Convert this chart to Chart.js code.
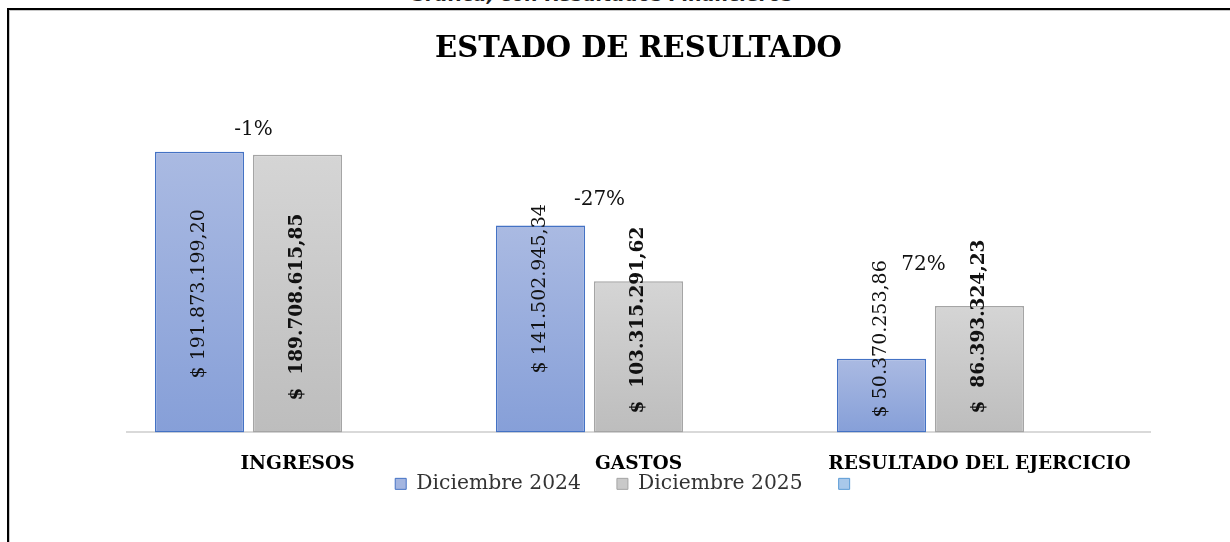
<!DOCTYPE html>
<html lang="es">
<head>
<meta charset="utf-8">
<title>Estado de Resultado</title>
<script src="https://cdn.jsdelivr.net/npm/chart.js@4.4.1/dist/chart.umd.min.js"></script>
<style>
  html, body { margin: 0; padding: 0; background: #fff; }
  body { width: 1230px; height: 542px; overflow: hidden; position: relative; }
  .frame {
    position: absolute; left: 7px; top: 8px; width: 1300px; height: 600px;
    border-left: 2px solid #000; border-top: 2px solid #000;
    box-shadow: inset 1px 1px 0 #c8c8c8;
  }
  .caption {
    position: absolute; left: 410px; top: -17px; white-space: nowrap;
    font: italic bold 19px "DejaVu Sans", sans-serif; color: #222;
  }
  #wrap { position: absolute; left: 0; top: 0; width: 1230px; height: 555px; }
</style>
</head>
<body>
<div class="caption">Gráfica, con Resultados Financieros</div>
<div class="frame"></div>
<div id="wrap"><canvas id="estado"></canvas></div>
<script>
// data
const categories = ['INGRESOS', 'GASTOS', 'RESULTADO DEL EJERCICIO'];
const seriesNames = ['Diciembre 2024', 'Diciembre 2025', ''];
const dic2024 = [191873199.20, 141502945.34, 50370253.86];
const dic2025 = [189708615.85, 103315291.62, 86393324.23];
const tercera = [null, null, null];
const variation = [-1, -27, 72];

// label placement (px)
const labelLift = [[54, 59, 15], [32, 19, 19]];
const pctDx = [5, 10, -7];
const pctDy = [-22, -26, -41];

const serif = '"DejaVu Serif", "Liberation Serif", serif';

function money(v, gap) {
  const parts = v.toFixed(2).split('.');
  const ent = parts[0].replace(/\B(?=(\d{3})+(?!\d))/g, '.');
  return '$' + gap + ent + ',' + parts[1];
}

// vertical gradient for each bar, light on top
function barGradient(top, bottom) {
  return (c) => {
    const y = c.chart.scales.y;
    if (!y || c.type !== 'data' || c.raw == null) return bottom;
    const y0 = y.getPixelForValue(c.raw), y1 = y.getPixelForValue(0);
    if (!isFinite(y0) || !isFinite(y1) || y0 === y1) return bottom;
    const g = c.chart.ctx.createLinearGradient(0, y0, 0, y1);
    g.addColorStop(0, top);
    g.addColorStop(1, bottom);
    return g;
  };
}

//value labels rotated inside bars + variation labels
const barLabels = {
  id: 'barLabels',
  afterDatasetsDraw(chart) {
    const ctx = chart.ctx;
    ctx.save();
    ctx.fillStyle = '#111';
    ctx.textBaseline = 'middle';
    [0, 1].forEach(i => {
      const meta = chart.getDatasetMeta(i);
      const vals = chart.data.datasets[i].data;
      ctx.font = i === 0 ? '19px ' + serif : 'bold 18.5px ' + serif;
      meta.data.forEach((bar, j) => {
        ctx.save();
        ctx.translate(bar.x, bar.base - labelLift[i][j]);
        ctx.rotate(-Math.PI / 2);
        ctx.textAlign = 'left';
        ctx.fillText(money(vals[j], i === 0 ? ' ' : '  '), 0, 0);
        ctx.restore();
      });
    });
    ctx.font = '20px ' + serif;
    ctx.textAlign = 'center';
    const a = chart.getDatasetMeta(0).data, b = chart.getDatasetMeta(1).data;
    variation.forEach((p, j) => {
      const x = (a[j].x + b[j].x) / 2 + pctDx[j];
      const y = Math.min(a[j].y, b[j].y) + pctDy[j];
      ctx.fillText(p + '%', x, y);
    });
    ctx.restore();
  }
};

// nudge the legend up/left to where it sits in the original
const legendShift = {
  id: 'legendShift',
  afterLayout(chart) {
    const l = chart.legend;
    l.top -= 51; l.bottom -= 51;
    l.left -= 11; l.right -= 11;
  }
};

const legendFill = ['#a3b5e0', '#c9c9c9', '#a9c8ea'];

const config = {
  type: 'bar',
  data: {
    labels: categories,
    datasets: [
      {label: seriesNames[0], data: dic2024, backgroundColor: barGradient('#aabae2', '#869fd8'), borderColor: '#4472c4', borderWidth: 1.5, borderSkipped: false},
      {label: seriesNames[1], data: dic2025, backgroundColor: barGradient('#d5d5d5', '#bdbdbd'), borderColor: '#a5a5a5', borderWidth: 1.5, borderSkipped: false},
      {label: seriesNames[2], data: tercera, backgroundColor: '#a9c8ea', borderColor: '#5b9bd5', borderWidth: 1}
    ]
  },
  options: {
    responsive: true,
    maintainAspectRatio: false,
    animation: false,
    categoryPercentage: 0.862,
    barPercentage: 0.91,
    layout: {padding: {left: 127, right: 80, top: 0, bottom: 0}},
    plugins: {
      title: {display: true, text: 'ESTADO DE RESULTADO', color: '#000', font: {family: serif, size: 29, weight: 'bold'}, padding: {top: 32, bottom: 73}},
      legend: {
        position: 'bottom',
        labels: {
          color: '#333', font: {family: serif, size: 20.3}, boxWidth: 11, boxHeight: 11, padding: 36,
          generateLabels(chart) {
            const items = Chart.defaults.plugins.legend.labels.generateLabels(chart);
            items.forEach((it, i) => { it.fillStyle = legendFill[i]; it.lineWidth = 1; });
            return items;
          }
        }
      },
      tooltip: {enabled: false}
    },
    scales: {
      x: {
        grid: {display: false},
        border: {color: '#d9d9d9', width: 2},
        ticks: {color: '#000', padding: 13, font: {family: serif, size: 18.6, weight: 'bold'}}
      },
      y: {display: false, min: 0, max: 200000000}
    }
  },
  plugins: [barLabels, legendShift]
};

const estado = new Chart(document.getElementById('estado'), config);
</script>
</body>
</html>
